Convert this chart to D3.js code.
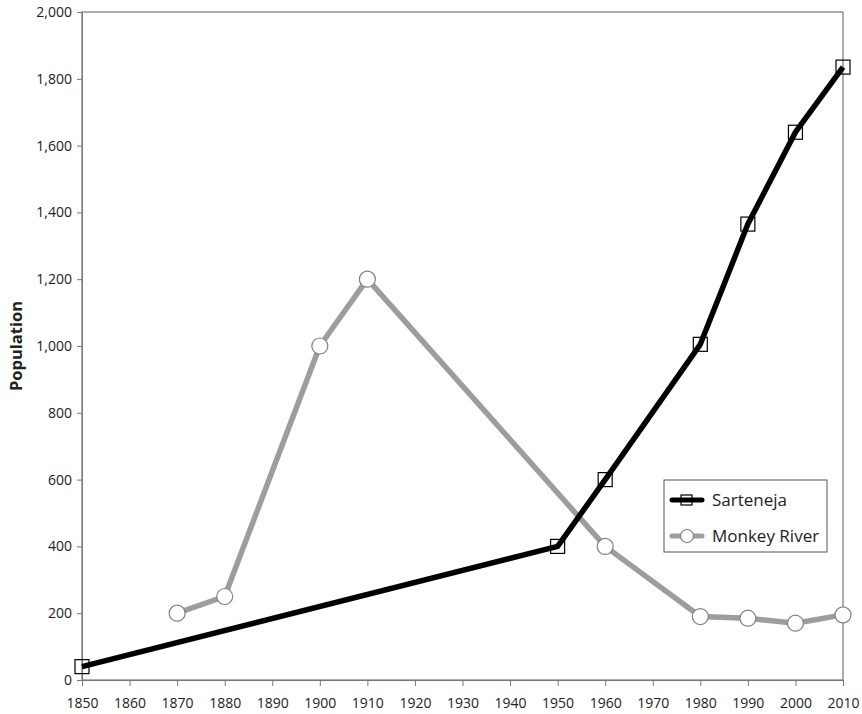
<!DOCTYPE html>
<html>
<head>
<meta charset="utf-8">
<script src="https://cdn.jsdelivr.net/npm/d3@7"></script>
<style>
  body { margin: 0; background: #fff; }
  text { font-family: "Open Sans", Lato, sans-serif; fill: #222; }
</style>
</head>
<body>
<div id="chart"></div>
<script>
const xTicks = [1850, 1860, 1870, 1880, 1890, 1900, 1910, 1920, 1930, 1940, 1950, 1960, 1970, 1980, 1990, 2000, 2010]
const yTicks = [0, 200, 400, 600, 800, 1000, 1200, 1400, 1600, 1800, 2000]

const sartenejaYears = [1850, 1950, 1960, 1980, 1990, 2000, 2010]
const sartenejaPop = [40, 400, 600, 1005, 1365, 1640, 1835]

const monkeyYears = [1870, 1880, 1900, 1910, 1960, 1980, 1990, 2000, 2010]
const monkeyPop = [200, 250, 1000, 1200, 400, 190, 185, 170, 195]

const width = 862
const height = 714
const margin = { left: 82, right: 19, top: 12, bottom: 34 }

const svg = d3.select('#chart')
    .append('svg')
    .attr('width', width)
    .attr('height', height)

const x = d3.scaleLinear()
    .domain([1850, 2010])
    .range([margin.left, width - margin.right])

const y = d3.scaleLinear()
    .domain([0, 2000])
    .range([height - margin.bottom, margin.top])

// frame
svg.append('rect')
    .attr('x', x(1850))
    .attr('y', y(2000))
    .attr('width', x(2010) - x(1850))
    .attr('height', y(0) - y(2000))
    .attr('fill', 'none')
    .attr('stroke', '#777')
    .attr('stroke-width', 1.2)

const xAxis = svg.append('g')
    .attr('transform', `translate(0, ${y(0)})`)
    .call(d3.axisBottom(x).tickValues(xTicks).tickFormat(d3.format('d')).tickSize(6).tickPadding(12))
xAxis.select('.domain').attr('stroke', '#777')
xAxis.selectAll('line').attr('stroke', '#777')
xAxis.selectAll('text').attr('font-size', 14).attr('fill', '#222')

const yAxis = svg.append('g')
    .attr('transform', `translate(${x(1850)}, 0)`)
    .call(d3.axisLeft(y).tickValues(yTicks).tickFormat(d3.format(',')).tickSize(5).tickPadding(5))
yAxis.select('.domain').attr('stroke', '#777')
yAxis.selectAll('line').attr('stroke', '#777')
yAxis.selectAll('text').attr('font-size', 14).attr('fill', '#222')

svg.append('text')
    .attr('transform', `translate(22, ${(y(0) + y(2000)) / 2}) rotate(-90)`)
    .attr('text-anchor', 'middle')
    .attr('font-size', 16.5)
    .attr('font-weight', 'bold')
    .text('Population')

const line = d3.line().x(d => x(d[0])).y(d => y(d[1]))

const monkey = monkeyYears.map((d, i) => [d, monkeyPop[i]])
const sarteneja = sartenejaYears.map((d, i) => [d, sartenejaPop[i]])

svg.append('path')
    .datum(monkey)
    .attr('d', line)
    .attr('fill', 'none')
    .attr('stroke', '#9d9d9d')
    .attr('stroke-width', 5.5)
    .attr('stroke-linejoin', 'round')

svg.append('path')
    .datum(sarteneja)
    .attr('d', line)
    .attr('fill', 'none')
    .attr('stroke', '#000')
    .attr('stroke-width', 5.5)
    .attr('stroke-linejoin', 'round')

svg.append('g')
    .selectAll('circle')
    .data(monkey)
    .join('circle')
    .attr('cx', d => x(d[0]))
    .attr('cy', d => y(d[1]))
    .attr('r', 8)
    .attr('fill', '#fff')
    .attr('stroke', '#808080')
    .attr('stroke-width', 1.2)

const sq = 14
svg.append('g')
    .selectAll('rect')
    .data(sarteneja)
    .join('rect')
    .attr('x', d => x(d[0]) - sq / 2)
    .attr('y', d => y(d[1]) - sq / 2)
    .attr('width', sq)
    .attr('height', sq)
    .attr('fill', 'none')
    .attr('stroke', '#000')
    .attr('stroke-width', 1.2)

// Legend
const legend = svg.append('g').attr('transform', 'translate(664, 480)')
legend.append('rect')
    .attr('width', 163)
    .attr('height', 72)
    .attr('fill', '#fff')
    .attr('stroke', '#555')
    .attr('stroke-width', 1)

const items = [
    { label: 'Sarteneja', color: '#000', shape: 'square' },
    { label: 'Monkey River', color: '#9d9d9d', shape: 'circle' }
]
items.forEach((it, i) => {
    const g = legend.append('g').attr('transform', `translate(0, ${20 + i * 36})`)
    g.append('line')
        .attr('x1', 8).attr('x2', 38)
        .attr('stroke', it.color)
        .attr('stroke-width', 5)
        .attr('stroke-linecap', 'round')
    if (it.shape === 'square') {
        g.append('rect').attr('x', 17).attr('y', -5).attr('width', 11).attr('height', 10)
            .attr('fill', 'none').attr('stroke', '#000').attr('stroke-width', 1.2)
    } else {
        g.append('circle').attr('cx', 23).attr('r', 6.5)
            .attr('fill', '#fff').attr('stroke', '#808080').attr('stroke-width', 1.2)
    }
    g.append('text')
        .attr('x', 48)
        .attr('y', 6)
        .attr('font-size', 17)
        .text(it.label)
})
</script>
</body>
</html>
